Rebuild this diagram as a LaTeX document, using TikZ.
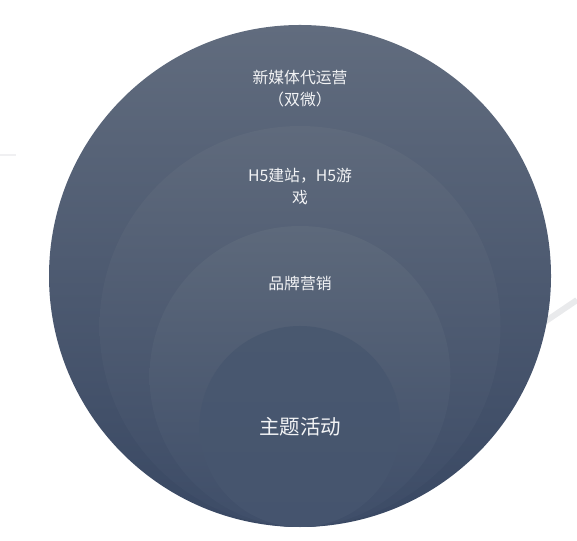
\documentclass[tikz,border=0pt]{standalone}
\usepackage{xcolor}
\usepackage{fontspec}
\setmainfont{Noto Sans CJK SC}
\usepackage{tikz}

\definecolor{swoosh}{HTML}{E9EAEC}
\definecolor{labeltext}{HTML}{F2F3F5}

\begin{document}
\begin{tikzpicture}[x=1pt, y=1pt,
    ring/.style={circle, inner sep=0pt, shading angle=0},
    label/.style={text=labeltext, align=center, font=\fontsize{15.8}{22}\selectfont}]
    \useasboundingbox (0, 0) rectangle (577, 540);

    % faint background strokes
    \draw[swoosh!70, line width=1.5pt] (0, 385) -- (16, 385);
    \draw[swoosh, line width=6pt] (540, 215) -- (577, 240);

    \node[ring, minimum size=502pt, top color={rgb,255:red,97;green,108;blue,126}, bottom color={rgb,255:red,57;green,72;blue,99}] at (300, 264) (ring1) {};
    \node[ring, minimum size=401pt, top color={rgb,255:red,95;green,106;blue,124}, bottom color={rgb,255:red,60;green,75;blue,102}] at (300, 213.5) (ring2) {};
    \node[ring, minimum size=301pt, top color={rgb,255:red,93;green,105;blue,123}, bottom color={rgb,255:red,63;green,78;blue,105}] at (300, 163.5) (ring3) {};
    \node[ring, minimum size=201pt, top color={rgb,255:red,73;green,88;blue,111}, bottom color={rgb,255:red,69;green,84;blue,110}] at (300, 113.5) (ring4) {};

    \node[label] at (300, 451) (L1) {新媒体代运营\\（双微）};
    \node[label] at (300, 353) (L2) {H5建站，H5游\\戏};
    \node[label] at (300, 257) (L3) {品牌营销};
    \node[label, font=\fontsize{20.5}{24}\selectfont] at (300, 113) (L4) {主题活动};
\end{tikzpicture}
\end{document}
